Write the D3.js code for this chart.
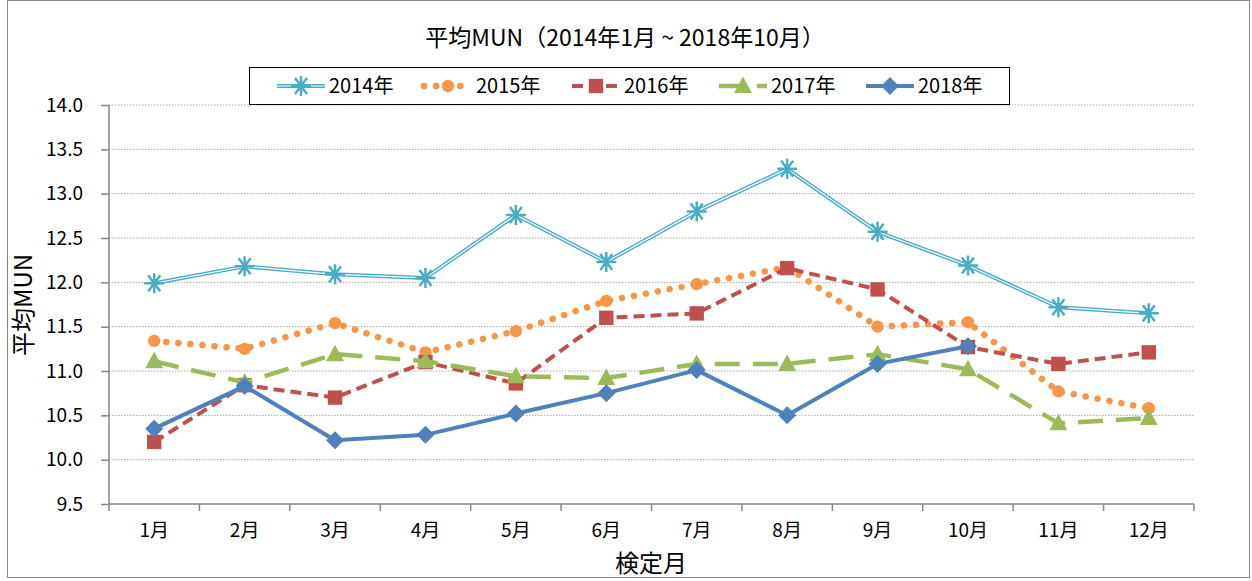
<!DOCTYPE html>
<meta charset="utf-8">
<style>
  body { margin: 0; font-family: 'Noto Sans CJK JP', 'Noto Sans', sans-serif; background: #fff; }
  .grid line { stroke: #a6a6a6; stroke-width: 1; stroke-dasharray: 1.5 1.5; }
  .axis path, .axis line { stroke: #868686; stroke-width: 1.5; fill: none; }
  .axis text { font-size: 19px; fill: #000; font-family: 'Noto Sans CJK JP', sans-serif; }
</style>
<body>
<div id="chart"></div>
<script src="https://d3js.org/d3.v7.min.js"></script>
<script>
// data
var months = ["1月", "2月", "3月", "4月", "5月", "6月", "7月", "8月", "9月", "10月", "11月", "12月"];
var yTicks = [9.5, 10.0, 10.5, 11.0, 11.5, 12.0, 12.5, 13.0, 13.5, 14.0];
var y2014 = [11.99, 12.18, 12.09, 12.05, 12.76, 12.23, 12.80, 13.28, 12.57, 12.19, 11.72, 11.65];
var y2015 = [11.34, 11.25, 11.54, 11.21, 11.45, 11.79, 11.98, 12.17, 11.50, 11.55, 10.77, 10.58];
var y2016 = [10.20, 10.84, 10.70, 11.10, 10.86, 11.60, 11.65, 12.16, 11.92, 11.27, 11.08, 11.21];
var y2017 = [11.11, 10.87, 11.19, 11.11, 10.94, 10.92, 11.08, 11.08, 11.19, 11.02, 10.41, 10.47];
var y2018 = [10.35, 10.83, 10.22, 10.28, 10.52, 10.75, 11.01, 10.50, 11.08, 11.28];

var series = [
  { name: "2014年", values: y2014, color: "#4bacc6", marker: "star", dash: null, width: 4 },
  { name: "2015年", values: y2015, color: "#f79646", marker: "circle", dash: "0.1 12", width: 6.5 },
  { name: "2016年", values: y2016, color: "#c0504d", marker: "square", dash: "11 6", width: 4 },
  { name: "2017年", values: y2017, color: "#9bbb59", marker: "triangle", dash: "25 13", width: 4.5 },
  { name: "2018年", values: y2018, color: "#4f81bd", marker: "diamond", dash: null, width: 4 }
];

var W = 1252, H = 581;
var plot = { left: 109, right: 1194, top: 105, bottom: 504 };

var svg = d3.select("#chart").append("svg")
  .attr("width", W).attr("height", H);

// outer frame
svg.append("rect").attr("x", 7.5).attr("y", 0.5).attr("width", 1242).attr("height", 577)
  .attr("fill", "#fff").attr("stroke", "#868686").attr("stroke-width", 1);

var x = d3.scaleBand().domain(months).range([plot.left, plot.right]);
var y = d3.scaleLinear().domain([9.5, 14]).range([plot.bottom, plot.top]);

// gridlines
svg.append("g").attr("class", "grid")
  .selectAll("line").data(yTicks.slice(1)).enter().append("line")
  .attr("x1", plot.left).attr("x2", plot.right)
  .attr("y1", function(d) { return y(d); }).attr("y2", function(d) { return y(d); });

// y axis
var yAxis = svg.append("g").attr("class", "axis")
  .attr("transform", "translate(" + plot.left + ",0)")
  .call(d3.axisLeft(y).tickValues(yTicks).tickFormat(d3.format(".1f")).tickSize(8).tickPadding(18));
yAxis.select(".domain").attr("d", "M0," + plot.top + "V" + plot.bottom);

// x axis
var xAxis = svg.append("g").attr("class", "axis")
  .attr("transform", "translate(0," + plot.bottom + ")")
  .call(d3.axisBottom(x).tickSize(0).tickPadding(20));
xAxis.select(".domain").attr("d", "M" + plot.left + ",0H" + plot.right);
xAxis.selectAll(".sep").data(months.concat(["end"])).enter().append("line")
  .attr("x1", function(d, i) { return plot.left + i * x.bandwidth(); })
  .attr("x2", function(d, i) { return plot.left + i * x.bandwidth(); })
  .attr("y1", 0).attr("y2", 7);

// marker drawing
function drawMarker(g, type, color, size) {
  var s = size;
  if (type === "star") {
    g.append("path")
      .attr("d", "M" + (-s) + ",0H" + s + "M" + (-s * 0.6) + "," + (-s * 0.8) + "L" + (s * 0.6) + "," + (s * 0.8) +
        "M" + (-s * 0.6) + "," + (s * 0.8) + "L" + (s * 0.6) + "," + (-s * 0.8) + "M0," + (-s) + "V" + s)
      .attr("stroke", color).attr("stroke-width", 2.5).attr("fill", "none");
  } else if (type === "circle") {
    g.append("circle").attr("r", s * 0.62).attr("fill", color);
  } else if (type === "square") {
    g.append("rect").attr("x", -s * 0.72).attr("y", -s * 0.72).attr("width", s * 1.44).attr("height", s * 1.44).attr("fill", color);
  } else if (type === "triangle") {
    g.append("path").attr("d", "M0," + (-s * 0.95) + "L" + (s * 0.9) + "," + (s * 0.7) + "L" + (-s * 0.9) + "," + (s * 0.7) + "Z").attr("fill", color);
  } else if (type === "diamond") {
    g.append("path").attr("d", "M0," + (-s * 0.9) + "L" + s * 0.9 + ",0L0," + s * 0.9 + "L" + (-s * 0.9) + ",0Z").attr("fill", color);
  }
}

var line = d3.line()
  .x(function(d, i) { return x(months[i]) + x.bandwidth() / 2; })
  .y(function(d) { return y(d); });

series.forEach(function(s) {
  var g = svg.append("g");
  g.append("path").datum(s.values).attr("d", line)
    .attr("fill", "none").attr("stroke", s.color).attr("stroke-width", s.width)
    .attr("stroke-linecap", s.marker === "circle" ? "round" : "butt")
    .attr("stroke-linejoin", "round")
    .attr("stroke-dasharray", s.dash);
  if (s.marker === "star") {
    g.append("path").datum(s.values).attr("d", line)
      .attr("fill", "none").attr("stroke", "#fff").attr("stroke-width", 1.2);
  }
  s.values.forEach(function(v, i) {
    var m = g.append("g").attr("transform", "translate(" + (x(months[i]) + x.bandwidth() / 2) + "," + y(v) + ")");
    drawMarker(m, s.marker, s.color, 10);
  });
});

// title
svg.append("text").attr("x", 625).attr("y", 46).attr("text-anchor", "middle")
  .style("font-size", "23px").text("平均MUN（2014年1月 ~ 2018年10月）");

// legend
svg.append("rect").attr("x", 249.5).attr("y", 67.5).attr("width", 760).attr("height", 37)
  .attr("fill", "#fff").attr("stroke", "#000").attr("stroke-width", 1);
var legendX = [277, 424, 572, 719, 866];
series.forEach(function(s, i) {
  var lg = svg.append("g").attr("transform", "translate(" + legendX[i] + ",86)");
  lg.append("line").attr("x1", 0).attr("x2", 48).attr("y1", 0).attr("y2", 0)
    .attr("stroke", s.color).attr("stroke-width", s.width)
    .attr("stroke-linecap", s.marker === "circle" ? "round" : "butt")
    .attr("stroke-dasharray", s.dash);
  if (s.marker === "star") {
    lg.append("line").attr("x1", 0).attr("x2", 48).attr("stroke", "#fff").attr("stroke-width", 1.2);
  }
  var m = lg.append("g").attr("transform", "translate(24,0)");
  drawMarker(m, s.marker, s.color, 10);
  lg.append("text").attr("x", 52).attr("y", 7).style("font-size", "20px").text(s.name);
});

// axis labels
svg.append("text").attr("transform", "translate(32,305) rotate(-90)").attr("text-anchor", "middle")
  .style("font-size", "24px").text("平均MUN");
svg.append("text").attr("x", 651).attr("y", 572).attr("text-anchor", "middle")
  .style("font-size", "24px").text("検定月");
</script>
</body>
